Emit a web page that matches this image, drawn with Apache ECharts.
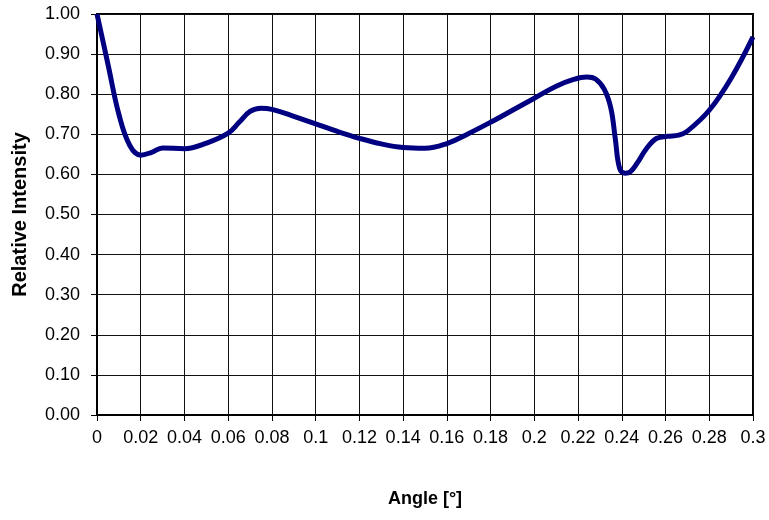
<!DOCTYPE html>
<html>
<head>
<meta charset="utf-8">
<script src="https://cdn.jsdelivr.net/npm/echarts@6/dist/echarts.min.js"></script>
<style>html,body{margin:0;padding:0;background:#fff;}#c{width:769px;height:520px;}</style>
</head>
<body>
<div id="c"></div>
<script>
const angles = [0, 0.005, 0.01, 0.015, 0.02, 0.025, 0.03, 0.04, 0.05, 0.06, 0.065, 0.07, 0.075, 0.08, 0.09, 0.1, 0.11, 0.12, 0.13, 0.14, 0.15, 0.16, 0.17, 0.18, 0.19, 0.2, 0.21, 0.218, 0.224, 0.228, 0.232, 0.235, 0.237, 0.239, 0.2415, 0.244, 0.247, 0.251, 0.256, 0.261, 0.266, 0.27, 0.28, 0.29, 0.3];
const intensity = [1.0, 0.875, 0.75, 0.672, 0.648, 0.655, 0.666, 0.664, 0.678, 0.703, 0.73, 0.757, 0.765, 0.762, 0.745, 0.726, 0.707, 0.69, 0.676, 0.667, 0.665, 0.677, 0.702, 0.73, 0.76, 0.79, 0.82, 0.837, 0.843, 0.838, 0.812, 0.765, 0.69, 0.615, 0.603, 0.607, 0.628, 0.662, 0.69, 0.695, 0.698, 0.708, 0.76, 0.84, 0.943];
const xTitle = 'Angle [°]';
const yTitle = 'Relative Intensity';

const chart = echarts.init(document.getElementById('c'));
const font = 'Arial, "Liberation Sans", sans-serif';
chart.setOption({
  animation: false,
  grid: { left: 97, top: 14, right: 16, bottom: 105, show: true, borderColor: '#000', borderWidth: 2, backgroundColor: 'transparent' },
  xAxis: {
    type: 'value', min: 0, max: 0.3, interval: 0.02,
    name: xTitle, nameLocation: 'middle', nameGap: 75,
    nameTextStyle: { fontFamily: font, fontSize: 18, fontWeight: 'bold', color: '#000' },
    axisLine: { show: true, lineStyle: { color: '#000', width: 2 } },
    axisTick: { show: true, length: 6, lineStyle: { color: '#000', width: 1 } },
    axisLabel: { margin: 14, fontFamily: font, fontSize: 18, color: '#000', formatter: v => String(+v.toFixed(2)) },
    splitLine: { show: true, lineStyle: { color: '#111', width: 1 } }
  },
  yAxis: {
    type: 'value', min: 0, max: 1, interval: 0.1,
    name: yTitle, nameLocation: 'middle', nameGap: 67,
    nameTextStyle: { fontFamily: font, fontSize: 20, fontWeight: 'bold', color: '#000' },
    axisLine: { show: true, lineStyle: { color: '#000', width: 2 } },
    axisTick: { show: true, length: 6, lineStyle: { color: '#000', width: 1 } },
    axisLabel: { margin: 17, fontFamily: font, fontSize: 18, color: '#000', formatter: v => v.toFixed(2) },
    splitLine: { show: true, lineStyle: { color: '#111', width: 1 } }
  },
  series: [{
    type: 'line',
    data: angles.map((a, i) => [a, intensity[i]]),
    smooth: 0.4,
    showSymbol: false,
    lineStyle: { color: '#000080', width: 5 }
  }]
});
</script>
</body>
</html>
